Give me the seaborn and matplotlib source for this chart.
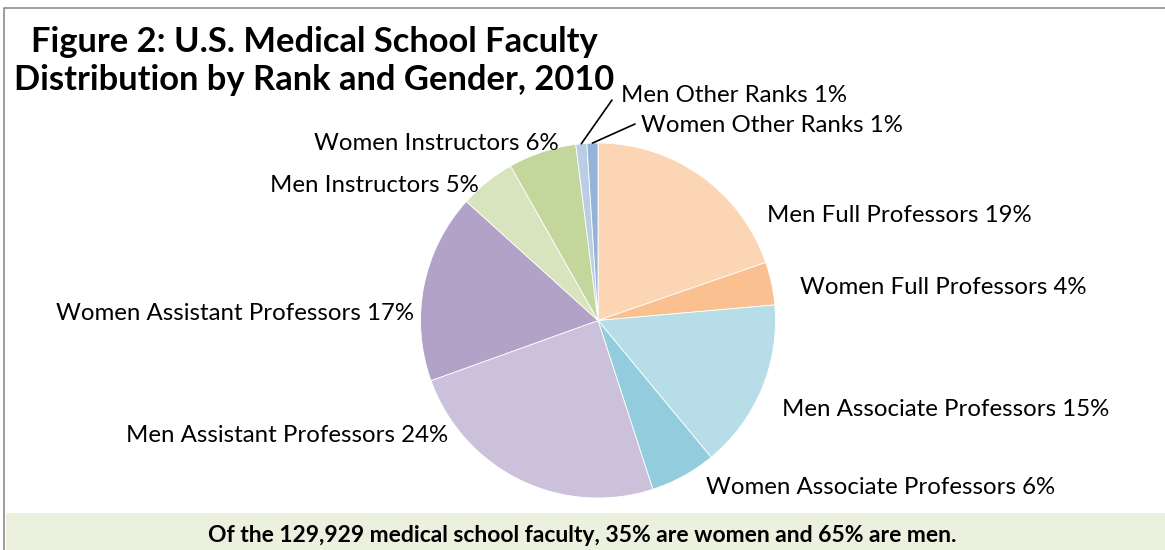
import matplotlib
matplotlib.use("Agg")
import matplotlib.pyplot as plt
import seaborn as sns
import numpy as np
from matplotlib.patches import Rectangle

# Data (clockwise from 12 o'clock)
categories = ["Men Full Professors", "Women Full Professors", "Men Associate Professors",
              "Women Associate Professors", "Men Assistant Professors", "Women Assistant Professors",
              "Men Instructors", "Women Instructors", "Men Other Ranks", "Women Other Ranks"]
shares = [19.7, 3.9, 15.4, 6.0, 24.5, 17.2, 5.1, 6.2, 1.0, 1.0]
pct_labels = ["19%", "4%", "15%", "6%", "24%", "17%", "5%", "6%", "1%", "1%"]
colors = ["#FCD5B5", "#FAC090", "#B7DEE8", "#93CDDD", "#CCC1DA",
          "#B3A2C7", "#D7E4BD", "#C3D69B", "#B9CDE5", "#95B3D7"]

title = "Figure 2: U.S. Medical School Faculty\nDistribution by Rank and Gender, 2010"
footnote = "Of the 129,929 medical school faculty, 35% are women and 65% are men."

sns.set_theme(style="white")
plt.rcParams["font.family"] = ["Lato", "DejaVu Sans"]
plt.rcParams["text.color"] = "black"

W, H = 1165, 550
fig = plt.figure(figsize=(W / 100, H / 100), dpi=100)
ax = fig.add_axes([0, 0, 1, 1])

def py(y):
    return H - y

cx, cy, r = 598, py(320.5), 177.5
wedges, _ = ax.pie(shares, colors=sns.color_palette(colors), startangle=90,
                   counterclock=False, center=(cx, cy), radius=r,
                   wedgeprops=dict(edgecolor="white", linewidth=0.6), frame=True)
ax.set_xlim(0, W)
ax.set_ylim(0, H)
ax.set_aspect("equal")
ax.axis("off")

# frame and footnote box
ax.plot([4, 4, W], [py(H), py(8), py(8)], color="#8c8c8c", lw=1.2)
ax.add_patch(Rectangle((6, 0), W - 6, py(513), color="#EBF1DE", lw=0))

# label positions (left x, center y in pixels from top)
label_pos = [(767, 216), (800, 287), (782, 410), (706, 487), (126, 436),
             (56, 313), (270, 186), (314, 143), (621, 96), (641, 126)]
fs = 17.3
for i, (name, pct) in enumerate(zip(categories, pct_labels)):
    x, y = label_pos[i]
    ax.text(x, py(y), f"{name} {pct}", ha="left", va="center", fontsize=fs, color="black")

# leader lines for the two tiny slices
for i, end in [(8, (612, 100)), (9, (635, 124))]:
    w = wedges[i]
    ang = np.deg2rad((w.theta1 + w.theta2) / 2)
    sx, sy = cx + r * np.cos(ang), cy + r * np.sin(ang)
    ax.plot([sx, end[0]], [sy, py(end[1])], color="black", lw=1.2)

ax.text(314, py(61), title, ha="center", va="center", fontsize=24.8,
        fontweight="bold", linespacing=1.2, color="black")
ax.text(582, py(536), footnote, ha="center", va="center", fontsize=16.5,
        fontweight="bold", color="black")

fig.savefig("out.png", dpi=100)
